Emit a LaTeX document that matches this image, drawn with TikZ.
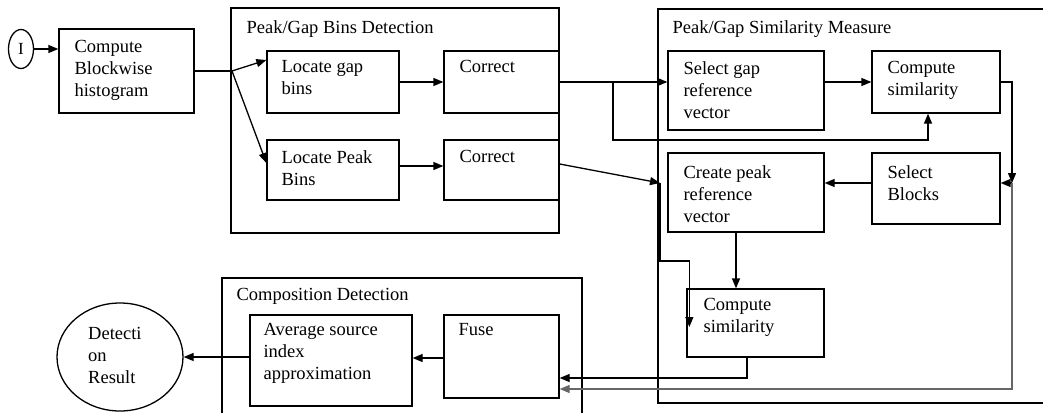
\documentclass[tikz,border=0pt]{standalone}
\usepackage{fontspec}
\setmainfont{Liberation Serif}
\usetikzlibrary{arrows.meta, positioning, shapes.geometric}

\begin{document}
\begin{tikzpicture}[x=1pt, y=-1pt,
    blk/.style={draw, line width=1.3pt, rectangle, inner sep=0pt},
    grp/.style={draw, line width=1.3pt, rectangle, inner sep=0pt},
    txt/.style={anchor=north west, inner sep=0pt, align=left, font=\fontsize{18.5}{22}\selectfont},
    arr/.style={-{Triangle[length=10pt, width=8pt]}, line width=1.3pt},
    ln/.style={line width=1.3pt}]
  \useasboundingbox (0,0) rectangle (1043,412);

  % input and blockwise histogram
  \node[draw, ellipse, line width=1.3pt, minimum width=25, minimum height=39, inner sep=0pt,
        font=\fontsize{17}{20}\selectfont] (inp) at (21,49) {\raisebox{-2pt}{I}};
  \node[blk, minimum width=135, minimum height=84] (cbh) at (126.5,71) {};
  \node[txt] (cbh-t) at ([shift={(16,12)}]cbh.north west) {Compute\\Blockwise\\histogram};

  % peak/gap bins detection
  \node[grp, minimum width=328, minimum height=225] (bins) at (395,120.5) {};
  \node[txt] (bins-t) at ([shift={(16,13)}]bins.north west) {Peak/Gap Bins Detection};
  \node[blk, minimum width=132, minimum height=62] (lgap) at (333,82) {};
  \node[txt] (lgap-t) at ([shift={(15,10)}]lgap.north west) {Locate gap\\bins};
  \node[blk, minimum width=115, minimum height=62] (corg) at (501.5,82) {};
  \node[txt] (corg-t) at ([shift={(16,10)}]corg.north west) {Correct};
  \node[blk, minimum width=132, minimum height=60] (lpeak) at (333,170) {};
  \node[txt] (lpeak-t) at ([shift={(15,11)}]lpeak.north west) {Locate Peak\\Bins};
  \node[blk, minimum width=115, minimum height=60] (corp) at (501.5,170) {};
  \node[txt] (corp-t) at ([shift={(16,11)}]corp.north west) {Correct};

  % peak/gap similarity measure
  \node[grp, minimum width=402, minimum height=394] (sim) at (859,206) {};
  \node[txt] (sim-t) at ([shift={(15,12)}]sim.north west) {Peak/Gap Similarity Measure};
  \node[blk, minimum width=156, minimum height=79] (sgap) at (746,90.5) {};
  \node[txt] (sgap-t) at ([shift={(16,11)}]sgap.north west) {Select gap\\reference\\vector};
  \node[blk, minimum width=128, minimum height=62] (csg) at (936,82) {};
  \node[txt] (csg-t) at ([shift={(16,11)}]csg.north west) {Compute\\similarity};
  \node[blk, minimum width=156, minimum height=79] (cpeak) at (746,192.5) {};
  \node[txt] (cpeak-t) at ([shift={(16,13)}]cpeak.north west) {Create peak\\reference\\vector};
  \node[blk, minimum width=128, minimum height=71] (selb) at (936,188.5) {};
  \node[txt] (selb-t) at ([shift={(16,13)}]selb.north west) {Select\\Blocks};
  \node[blk, minimum width=137, minimum height=68] (csp) at (755.5,323) {};
  \node[txt] (csp-t) at ([shift={(17,10)}]csp.north west) {Compute\\similarity};

  % composition detection and result
  \node[grp, minimum width=360, minimum height=147] (comp) at (402,351.5) {};
  \node[txt] (comp-t) at ([shift={(15,11)}]comp.north west) {Composition Detection};
  \node[blk, minimum width=162, minimum height=91] (avg) at (331,360.5) {};
  \node[txt] (avg-t) at ([shift={(14,9)}]avg.north west) {Average source\\index\\approximation};
  \node[blk, minimum width=115, minimum height=83] (fuse) at (501.5,356.5) {};
  \node[txt] (fuse-t) at ([shift={(15,9)}]fuse.north west) {Fuse};
  \node[draw, ellipse, line width=1.3pt, minimum width=126, minimum height=108] (res) at (120,357) {};
  \node[txt] (res-t) at (88,327) {Detecti\\on\\Result};

  % junctions
  \coordinate (j1) at (232,71);
  \coordinate (j2) at (613,82);
  \coordinate (j2b) at (613,140);
  \coordinate (j3) at (660,183);
  \coordinate (j4) at (1012,183);

  % connectors
  \draw[arr] (inp) -- (inp -| cbh.west);
  \draw[ln] (cbh.east |- j1) -- (j1);
  \draw[arr] (j1) -- ([yshift=22pt]lgap.west);
  \draw[arr] (j1) -- ([yshift=7pt]lpeak.west);
  \draw[arr] (lgap) -- (corg);
  \draw[arr] ([yshift=4pt]lpeak.east) -- ([yshift=4pt]corp.west);
  \draw[arr] (corg.east) -- (corg.east -| sgap.west);
  \draw[arr] (j2) -- (j2b) -| ([xshift=-8pt]csg.south);
  \draw[arr] (csg.west -| sgap.east) -- (csg.west);
  \draw[arr] ([yshift=6pt]corp.east) -- (j3);
  \draw[arr] (j3) -- ++(0,78) -| ([shift={(3,4)}]csp.west);
  \draw[arr] (csg.east) -| (j4);
  \draw[arr] (j4) -- (j4 -| selb.east);
  \draw[arr] ([yshift=5.5pt]selb.west) -- ([yshift=5.5pt]selb.west -| cpeak.east);
  \draw[arr] ([xshift=-10pt]cpeak.south) -- ([xshift=-10pt]cpeak.south |- csp.north);
  \draw[arr, black!60] (j4) |- ([yshift=-32.5pt]fuse.east);
  \draw[arr] ([xshift=-8.5pt]csp.south) |- ([yshift=-21.5pt]fuse.east);
  \draw[arr] ([yshift=-1.5pt]fuse.west) -- ([yshift=-1.5pt]fuse.west -| avg.east);
  \draw[arr] (avg.west |- res) -- (res.east);
\end{tikzpicture}
\end{document}
